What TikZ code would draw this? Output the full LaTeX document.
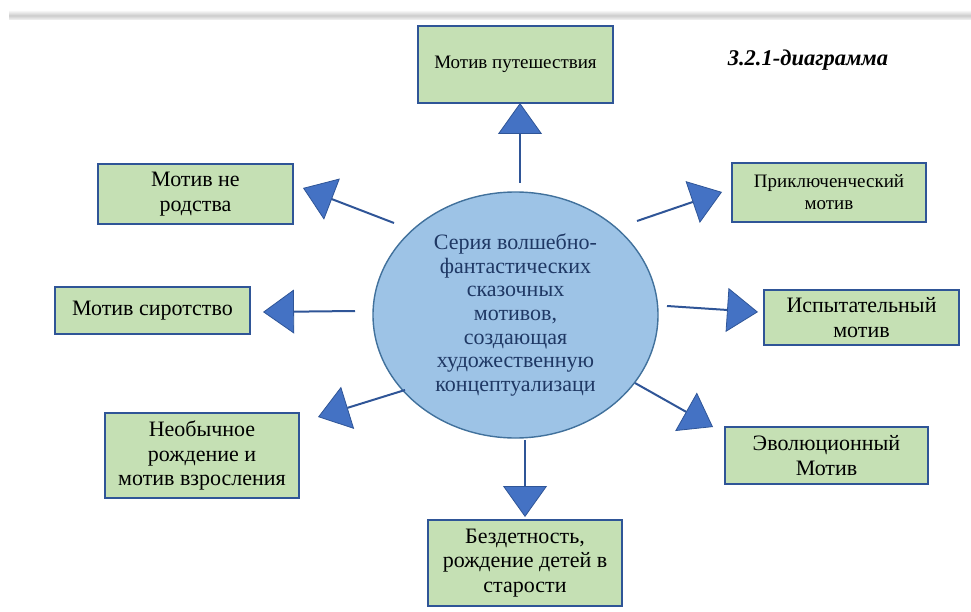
\documentclass[tikz,border=0pt]{standalone}
\usepackage{fontspec}
\setmainfont{Liberation Serif}
\usetikzlibrary{arrows.meta, shapes.geometric}
\definecolor{boxgreen}{HTML}{C5E0B4}
\definecolor{boxline}{HTML}{2F5597}
\definecolor{ellfill}{HTML}{9DC3E6}
\definecolor{ellline}{HTML}{41719C}
\definecolor{tipblue}{HTML}{4472C4}
\definecolor{navy}{HTML}{1F3864}

\begin{document}
\begin{tikzpicture}
[x=1pt, y=-1pt,
> = {Triangle[length=31pt, width=44pt, fill=tipblue, line width=0.8pt]},
block/.style ={rectangle, draw=boxline, line width=1.4pt, fill=boxgreen,
align=center, inner sep=2pt, minimum width=195pt,
font=\fontsize{22}{24.5}\selectfont},
small/.style ={font=\fontsize{19}{22}\selectfont},
link/.style ={->, draw=boxline, line width=2pt},
]
\useasboundingbox (0,0) rectangle (971,612);
\shade[top color=black!4, bottom color=black!4, middle color=black!20] (9,11) rectangle (971,20);

% centre
\node[ellipse, draw=ellline, fill=ellfill, line width=1.4pt, inner sep=0pt,
  minimum width=285pt, minimum height=246pt, text=navy, align=center,
  font=\fontsize{22}{23.7}\selectfont] (sr) at (515.5,315)
  {Серия волшебно-\\фантастических\\сказочных\\мотивов,\\создающая\\художественную\\концептуализаци};

% top
\node [block, small, minimum height=77pt] (trav) at (515.5,64.5) {Мотив путешествия};
\node [font=\fontsize{22.5}{24}\selectfont\bfseries\itshape] (ttl) at (808,60) {3.2.1-диаграмма};

% left
\node [block, minimum height=60pt] (kin) at (195.5,194) {Мотив не\\родства};
\node [block, minimum height=47pt] (orph) at (152.5,310.5) {Мотив сиротство};
\node [block, minimum height=85pt, minimum width=194pt] (birth) at (202,455.5) {Необычное\\рождение и\\мотив взросления};

% right
\node [block, small, minimum height=59pt, minimum width=194pt] (adv) at (829,192.5) {Приключенческий\\мотив};
\node [block, minimum height=55pt] (test) at (861.5,317.5) {Испытательный\\мотив};
\node [block, minimum height=57pt, minimum width=203pt] (evol) at (826.5,455.5) {Эволюционный\\Мотив};

% bottom
\node [block, minimum height=86pt, minimum width=194pt] (child) at (525,563) {Бездетность,\\рождение детей в\\старости};

% arrow ends
\coordinate (t1) at (520,183); \coordinate (h1) at (520,103);
\coordinate (t2) at (394,223); \coordinate (h2) at (303,188);
\coordinate (t3) at (355,311); \coordinate (h3) at (263,312);
\coordinate (t4) at (405,390); \coordinate (h4) at (318,417);
\coordinate (t5) at (525,440); \coordinate (h5) at (525,517);
\coordinate (t6) at (635,383); \coordinate (h6) at (713,427);
\coordinate (t7) at (667,306); \coordinate (h7) at (758,312);
\coordinate (t8) at (637,221); \coordinate (h8) at (722,192);

 \draw[link] (t1) -- (h1);
 \draw[link] (t2) -- (h2);
 \draw[link] (t3) -- (h3);
 \draw[link] (t4) -- (h4);
 \draw[link] (t5) -- (h5);
 \draw[link] (t6) -- (h6);
 \draw[link] (t7) -- (h7);
 \draw[link] (t8) -- (h8);
\end{tikzpicture}
\end{document}
